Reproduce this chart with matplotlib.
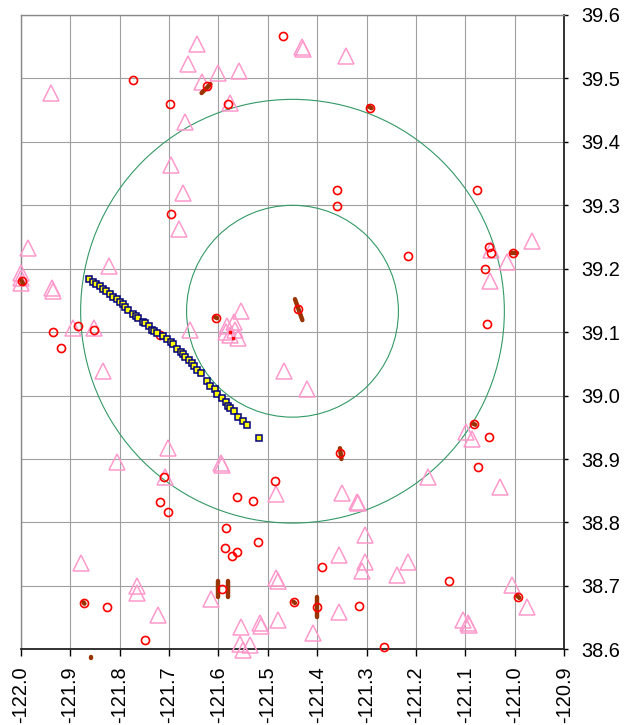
import matplotlib
matplotlib.use("Agg")
import matplotlib.pyplot as plt
from matplotlib.patches import Ellipse
import numpy as np

plt.rcParams['font.family'] = ['Liberation Sans', 'DejaVu Sans']

# ---------------- data ----------------
x_ticks = [-122.0, -121.9, -121.8, -121.7, -121.6, -121.5, -121.4, -121.3,
           -121.2, -121.1, -121.0, -120.9]
y_ticks = [38.6, 38.7, 38.8, 38.9, 39.0, 39.1, 39.2, 39.3, 39.4, 39.5, 39.6]
x_tick_labels = ["-122.0", "-121.9", "-121.8", "-121.7", "-121.6", "-121.5",
                 "-121.4", "-121.3", "-121.2", "-121.1", "-121.0", "-120.9"]
y_tick_labels = ["38.6", "38.7", "38.8", "38.9", "39.0", "39.1", "39.2",
                 "39.3", "39.4", "39.5", "39.6"]

# triangles (pink, hollow)
tri_lon = [-121.644, -121.661, -121.600, -121.558, -121.633, -121.576, -121.668,
           -121.696, -121.671, -121.679, -121.939, -121.431, -121.429, -121.342,
           -120.966, -121.049, -121.015, -121.050,
           -121.421, -121.098, -121.087,
           -121.985, -122.000, -121.999, -122.000, -121.937, -121.935, -121.821,
           -121.894, -121.852, -121.834, -121.657,
           -121.555, -121.568, -121.583, -121.585, -121.566, -121.561, -121.576,
           -121.467, -121.701,
           -121.805, -121.595, -121.593, -121.709, -121.483, -121.878, -121.765,
           -121.764, -121.722, -121.614, -121.483, -121.479, -121.479, -121.555,
           -121.516, -121.514, -121.556, -121.536, -121.550, -121.409,
           -121.175, -121.030, -121.350, -121.320, -121.318, -121.303, -121.356,
           -121.216, -121.303, -121.310, -121.238, -121.355, -121.006, -120.975,
           -121.104, -121.094, -121.092]
tri_lat = [39.554, 39.522, 39.508, 39.512, 39.495, 39.462, 39.432,
           39.364, 39.320, 39.262, 39.477, 39.550, 39.546, 39.535,
           39.243, 39.230, 39.211, 39.181,
           39.011, 38.943, 38.931,
           39.232, 39.193, 39.185, 39.177, 39.169, 39.165, 39.204,
           39.106, 39.106, 39.039, 39.104,
           39.134, 39.116, 39.109, 39.101, 39.103, 39.090, 39.095,
           39.038, 38.918,
           38.896, 38.894, 38.891, 38.871, 38.845, 38.736, 38.700,
           38.688, 38.654, 38.680, 38.712, 38.707, 38.646, 38.635,
           38.641, 38.637, 38.608, 38.607, 38.599, 38.626,
           38.872, 38.856, 38.846, 38.833, 38.830, 38.780, 38.749,
           38.738, 38.737, 38.724, 38.717, 38.659, 38.701, 38.666,
           38.646, 38.641, 38.638]

# red circles (hollow)
circ_lon = [-121.772, -121.697, -121.581, -121.469, -121.624, -121.293, -121.359,
            -121.359, -121.077, -121.695, -121.216, -121.052, -121.049, -121.003,
            -121.060, -121.057, -121.438, -121.998, -121.935, -121.918, -121.885,
            -121.851, -121.718, -121.605, -121.083, -121.053, -121.353, -121.075,
            -121.711, -121.485, -121.718, -121.701, -121.562, -121.529, -121.585,
            -121.586, -121.573, -121.563, -121.520, -121.390, -121.592, -121.872,
            -121.826, -121.748, -121.446, -121.401, -121.133, -121.315, -121.264,
            -120.994]
circ_lat = [39.498, 39.459, 39.460, 39.567, 39.488, 39.454, 39.324,
            39.299, 39.324, 39.286, 39.220, 39.234, 39.225, 39.224,
            39.200, 39.113, 39.137, 39.180, 39.100, 39.075, 39.109,
            39.103, 39.096, 39.123, 38.955, 38.934, 38.909, 38.888,
            38.871, 38.866, 38.833, 38.816, 38.840, 38.834, 38.791,
            38.759, 38.747, 38.754, 38.769, 38.729, 38.695, 38.673,
            38.666, 38.615, 38.674, 38.667, 38.707, 38.669, 38.603,
            38.683]
dot_lon = [-121.576, -121.570]
dot_lat = [39.101, 39.090]

# dark red tracks (segments)
track_lon0 = [-121.634, -121.296, -121.445, -121.008, -121.999, -121.607, -121.085,
              -121.354, -121.601, -121.580, -121.873, -121.448, -121.401, -120.996,
              -121.858]
track_lat0 = [39.477, 39.456, 39.152, 39.224, 39.182, 39.124, 38.956,
              38.917, 38.708, 38.708, 38.674, 38.675, 38.683, 38.685,
              38.588]
track_lon1 = [-121.616, -121.290, -121.430, -120.996, -121.995, -121.603, -121.080,
              -121.351, -121.601, -121.580, -121.871, -121.445, -121.401, -120.991,
              -121.858]
track_lat1 = [39.491, 39.453, 39.119, 39.224, 39.176, 39.122, 38.954,
              38.900, 38.683, 38.683, 38.672, 38.673, 38.651, 38.681,
              38.586]

# blue/yellow squares
sq_lon = [-121.861, -121.853, -121.848, -121.840, -121.834, -121.827, -121.819,
          -121.813, -121.806, -121.800, -121.792, -121.789, -121.782, -121.772,
          -121.767, -121.762, -121.753, -121.748, -121.740, -121.735, -121.730,
          -121.724, -121.713, -121.703, -121.696, -121.691, -121.683, -121.676,
          -121.671, -121.668, -121.659, -121.654, -121.649, -121.643, -121.636,
          -121.624, -121.617, -121.607, -121.602, -121.593, -121.585, -121.580,
          -121.576, -121.568, -121.560, -121.551, -121.543, -121.517]
sq_lat = [39.184, 39.179, 39.176, 39.172, 39.168, 39.165, 39.160,
          39.156, 39.152, 39.148, 39.144, 39.140, 39.135, 39.129,
          39.125, 39.123, 39.116, 39.114, 39.109, 39.104, 39.102,
          39.099, 39.094, 39.089, 39.084, 39.081, 39.073, 39.069,
          39.066, 39.061, 39.056, 39.052, 39.047, 39.041, 39.035,
          39.023, 39.015, 39.010, 39.002, 38.996, 38.990, 38.984,
          38.980, 38.975, 38.967, 38.960, 38.953, 38.933]

# range circles
ring_center = (-121.450, 39.133)
ring_radii_lat = [0.167, 0.334]

# ---------------- plot ----------------
W, H = 631, 725
fig = plt.figure(figsize=(W / 100, H / 100), dpi=100)
ax = fig.add_axes([20.7 / W, 1 - 649.3 / H, (564.3 - 20.7) / W, (649.3 - 15) / H])
xmin, xmax, ymin, ymax = -122.0, -120.9, 38.6, 39.6
ax.set_xlim(xmin, xmax)
ax.set_ylim(ymin, ymax)

# pixel aspect so the rings are round on screen
bbox = ax.get_position()
px_per_x = bbox.width * W / (xmax - xmin)
px_per_y = bbox.height * H / (ymax - ymin)
aspect = px_per_y / px_per_x

ax.set_xticks(x_ticks)
ax.set_xticklabels(x_tick_labels, rotation=90, fontsize=14.4)
ax.set_yticks(y_ticks)
ax.set_yticklabels(y_tick_labels, fontsize=14.4)
ax.yaxis.tick_right()
ax.tick_params(axis='x', direction='out', length=5, width=1.0, pad=7, color='black')
ax.tick_params(axis='y', direction='out', length=3, width=1.0, pad=9, color='black')

ax.grid(True, color='#A0A0A0', linewidth=0.8)
ax.set_axisbelow(True)
for s in ['left', 'top']:
    ax.spines[s].set_color('#888888')
    ax.spines[s].set_linewidth(1.0)
for s in ['right', 'bottom']:
    ax.spines[s].set_color('#222222')
    ax.spines[s].set_linewidth(1.3)

for r in ring_radii_lat:
    e = Ellipse(ring_center, width=2 * r * aspect, height=2 * r, fill=False,
                edgecolor='#339966', linewidth=0.8, zorder=2)
    ax.add_patch(e)

ax.plot(tri_lon, tri_lat, linestyle='none', marker='^', markersize=11,
        markerfacecolor='none', markeredgecolor='#FF99CC', markeredgewidth=1.1,
        zorder=3, clip_on=False)

for x0, y0, x1, y1 in zip(track_lon0, track_lat0, track_lon1, track_lat1):
    ax.plot([x0, x1], [y0, y1], color='#993300', linewidth=3.2,
            solid_capstyle='round', zorder=4, clip_on=False)

ax.plot(circ_lon, circ_lat, linestyle='none', marker='o', markersize=5.8,
        markerfacecolor='none', markeredgecolor='#FF0000', markeredgewidth=1.2,
        zorder=5, clip_on=False)
ax.plot(dot_lon, dot_lat, linestyle='none', marker='s', markersize=1.5,
        color='#FF0000', zorder=5)

ax.plot(sq_lon, sq_lat, linestyle='none', marker='s', markersize=4.0,
        markerfacecolor='#FFFF00', markeredgecolor='#000080', markeredgewidth=1.1,
        zorder=6)

fig.savefig('out.png', dpi=100)
